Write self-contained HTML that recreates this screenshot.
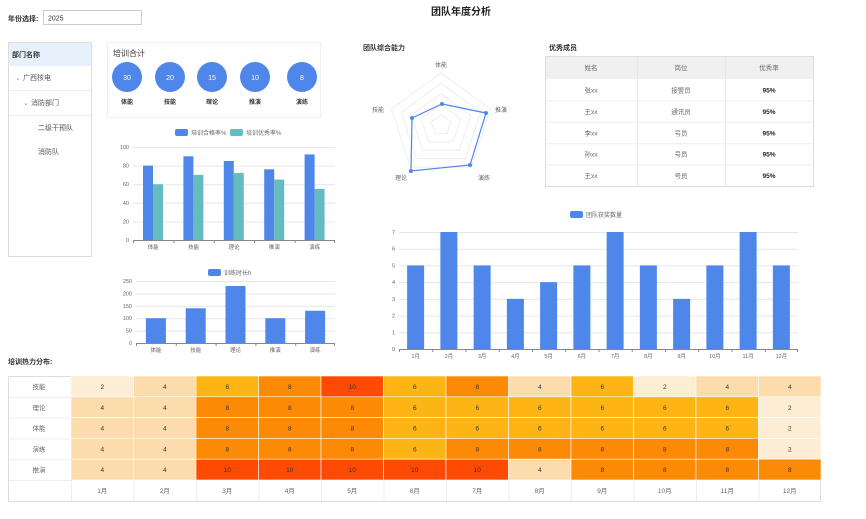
<!DOCTYPE html>
<html><head><meta charset="utf-8"><style>
body{margin:0;background:#fff;width:866px;height:514px;overflow:hidden;font-family:"Liberation Sans","Noto Sans CJK SC",sans-serif;}
svg text{font-family:"Liberation Sans","Noto Sans CJK SC",sans-serif;}
</style></head><body>
<svg id="s" width="866" height="514" xmlns="http://www.w3.org/2000/svg">
<text x="461" y="15" font-size="10" font-weight="bold" text-anchor="middle" fill="#222">团队年度分析</text>
<text x="8" y="21" font-size="7" font-weight="bold" fill="#333">年份选择:</text>
<rect x="43.5" y="10.5" width="98" height="14" fill="#fff" stroke="#ccc"/>
<text x="48" y="20.5" font-size="7" fill="#333">2025</text>
<!-- tree -->
<rect x="8.5" y="42.5" width="83" height="214" fill="#fff" stroke="#ddd"/>
<rect x="9" y="43" width="82" height="23" fill="#e6f1fc"/>
<text x="12" y="57" font-size="7" font-weight="bold" fill="#333">部门名称</text>
<line x1="9" y1="90.5" x2="91" y2="90.5" stroke="#eee"/>
<line x1="9" y1="115.5" x2="91" y2="115.5" stroke="#eee"/>
<text x="15" y="80" font-size="7" fill="#999">⌄</text><text x="23" y="80" font-size="7" fill="#555">广西核电</text>
<text x="23" y="105" font-size="7" fill="#999">⌄</text><text x="31" y="105" font-size="7" fill="#555">消防部门</text>
<text x="38" y="130" font-size="7" fill="#555">二级干预队</text>
<text x="38" y="154" font-size="7" fill="#555">消防队</text>
<!-- training total card -->
<rect x="107.5" y="42.5" width="213" height="75" fill="#fff" stroke="#f0f0f0"/>
<text x="113" y="56" font-size="8" fill="#333">培训合计</text>
<g id="circ"></g>
<!-- radar title -->
<text x="363" y="50" font-size="7" font-weight="bold" fill="#333">团队综合能力</text>
<g id="radar"></g>
<!-- table -->
<text x="549" y="50" font-size="7" font-weight="bold" fill="#333">优秀成员</text>
<g id="tbl"></g>
<g id="c1"></g><g id="c2"></g><g id="c3"></g>
<text x="8" y="364" font-size="7" font-weight="bold" fill="#333">培训热力分布:</text>
<g id="hm"></g>
</svg>
<script>
const S=document.getElementById('s');const NS="http://www.w3.org/2000/svg";
function el(p,t,a,tx){const e=document.createElementNS(NS,t);for(const k in a)e.setAttribute(k,a[k]);if(tx!==undefined)e.textContent=tx;document.getElementById(p).appendChild(e);return e;}
const B="#4f86ea",T="#65bcc0",G="#e3e6ec",L="#666";
// circles
[[127,'30','体能'],[170,'20','技能'],[212,'15','理论'],[255,'10','推演'],[302,'8','演练']].forEach(([x,v,l])=>{
el('circ','circle',{cx:x,cy:77,r:15,fill:B});
el('circ','text',{x:x,y:80,'font-size':7,fill:'#fff','text-anchor':'middle'},v);
el('circ','text',{x:x,y:104,'font-size':6,'font-weight':'bold',fill:'#333','text-anchor':'middle'},l);});
// radar
const cx=441,cy=125,R=52;const ang=[90,18,-54,-126,162].map(a=>a*Math.PI/180);
for(let k=1;k<=5;k++){let r=R*k/5;el('radar','polygon',{points:ang.map(a=>(cx+r*Math.cos(a))+','+(cy-r*Math.sin(a))).join(' '),fill:'none',stroke:'#eee','stroke-width':1});}
const pts=[[442,104],[486,113],[470,165],[411,171],[412,118]];
el('radar','polygon',{points:pts.map(p=>p.join(',')).join(' '),fill:'none',stroke:B,'stroke-width':1.2});
pts.forEach(p=>el('radar','circle',{cx:p[0],cy:p[1],r:2,fill:B}));
[[441,67,'体能'],[501,112,'推演'],[484,180,'演练'],[401,180,'理论'],[378,112,'技能']].forEach(([x,y,t])=>el('radar','text',{x:x,y:y,'font-size':6,fill:L,'text-anchor':'middle'},t));
// table
el('tbl','rect',{x:545.5,y:56.5,width:268,height:130,fill:'#fff',stroke:'#ddd'});
el('tbl','rect',{x:546,y:57,width:267,height:22,fill:'#f0f0f0'});
[637.5,725.5].forEach(x=>el('tbl','line',{x1:x,y1:57,x2:x,y2:186,stroke:'#e6e6e6'}));
const rows=[['姓名','岗位','优秀率'],['张xx','接警员','95%'],['王xx','通讯员','95%'],['李xx','号员','95%'],['孙xx','号员','95%'],['王xx','号员','95%']];
rows.forEach((r,i)=>{const y0=i==0?57:79+(i-1)*21.4;if(i>0&&i<5)el('tbl','line',{x1:546,y1:y0+21.4+.5,x2:813,y2:y0+21.4+.5,stroke:'#eee'});
const yc=i==0?70:y0+13.5;[591,681,769].forEach((x,j)=>el('tbl','text',{x:x,y:yc,'font-size':6.5,fill:j==2&&i>0?'#222':L,'font-weight':j==2&&i>0?'bold':'normal','text-anchor':'middle'},r[j]));});
// generic bar chart
function axis(g,x0,x1,y0,yTop,ticks,maxv,cats,fs){
ticks.forEach(t=>{const y=y0-(y0-yTop)*t/maxv;el(g,'line',{x1:x0,y1:y+.5,x2:x1,y2:y+.5,stroke:t==0?'#888':G,'stroke-width':1});
el(g,'text',{x:x0-4,y:y+2,'font-size':fs,fill:L,'text-anchor':'end'},t);});
const w=(x1-x0)/cats.length;cats.forEach((c,i)=>{el(g,'line',{x1:x0+w*i+.5,y1:y0,x2:x0+w*i+.5,y2:y0+3,stroke:'#888'});
el(g,'text',{x:x0+w*(i+.5),y:y0+9,'font-size':fs,fill:L,'text-anchor':'middle'},c);});
el(g,'line',{x1:x1-.5,y1:y0,x2:x1-.5,y2:y0+3,stroke:'#888'});return w;}
const cats5=['体能','技能','理论','推演','演练'];
// c1
let w=axis('c1',133,335,240,147,[0,20,40,60,80,100],100,cats5,5.5);
[80,90,85,76,92].forEach((v,i)=>{let h=93*v/100;el('c1','rect',{x:133+w*i+10,y:240-h,width:10,height:h,fill:B});});
[60,70,72,65,55].forEach((v,i)=>{let h=93*v/100;el('c1','rect',{x:133+w*i+20,y:240-h,width:10,height:h,fill:T});});
el('c1','rect',{x:175,y:129,width:13,height:7,rx:2,fill:B});el('c1','text',{x:191,y:135,'font-size':6,fill:L},'培训合格率%');
el('c1','rect',{x:230,y:129,width:13,height:7,rx:2,fill:T});el('c1','text',{x:246,y:135,'font-size':6,fill:L},'培训优秀率%');
// c2
w=axis('c2',136,335,343,281,[0,50,100,150,200,250],250,cats5,5.5);
[100,140,230,100,130].forEach((v,i)=>{let h=62*v/250;el('c2','rect',{x:136+w*(i+.5)-10,y:343-h,width:20,height:h,fill:B});});
el('c2','rect',{x:208,y:269,width:13,height:7,rx:2,fill:B});el('c2','text',{x:224,y:275,'font-size':6,fill:L},'训练时长h');
// c3
const m=[...Array(12)].map((_,i)=>(i+1)+'月');
w=axis('c3',399,798,349,232,[0,1,2,3,4,5,6,7],7,m,5.5);
[5,7,5,3,4,5,7,5,3,5,7,5].forEach((v,i)=>{let h=117*v/7;el('c3','rect',{x:399+w*(i+.5)-8.5,y:349-h,width:17,height:h,fill:B});});
el('c3','rect',{x:570,y:211,width:13,height:7,rx:2,fill:B});el('c3','text',{x:586,y:217,'font-size':6,fill:L},'团队获奖数量');
// heatmap
const hv=[[2,4,6,8,10,6,8,4,6,2,4,4],[4,4,8,8,8,6,6,6,6,6,6,2],[4,4,8,8,8,6,6,6,6,6,6,2],[4,4,8,8,8,6,8,8,8,8,8,2],[4,4,10,10,10,10,10,4,8,8,8,8]];
const rl=['技能','理论','体能','演练','推演'];const col={2:'#fdedd5',4:'#fcdcad',6:'#fdb515',8:'#fd8a05',10:'#fe4a05'};
el('hm','rect',{x:8.5,y:376.5,width:812,height:125,fill:'#fff',stroke:'#ddd'});
const cw=(821-71)/12,rh=20.8;
hv.forEach((r,i)=>{const y=376+i*rh;el('hm','text',{x:39,y:y+13,'font-size':6.5,fill:L,'text-anchor':'middle'},rl[i]);
if(i>0)el('hm','line',{x1:9,y1:y+.5,x2:71,y2:y+.5,stroke:'#eee'});
r.forEach((v,j)=>{const x=71+j*cw;el('hm','rect',{x:x,y:y,width:cw,height:rh,fill:col[v],stroke:'#fff','stroke-width':0.6});
el('hm','text',{x:x+cw/2,y:y+13,'font-size':6.5,fill:'#333','text-anchor':'middle'},v);});});
const yl=376+5*rh;el('hm','line',{x1:9,y1:yl+.5,x2:71,y2:yl+.5,stroke:'#eee'});
m.forEach((t,j)=>{const x=71+j*cw;el('hm','line',{x1:x+.5,y1:yl,x2:x+.5,y2:501,stroke:'#eee'});el('hm','text',{x:x+cw/2,y:yl+13,'font-size':6.5,fill:L,'text-anchor':'middle'},t);});
</script>
</body></html>
